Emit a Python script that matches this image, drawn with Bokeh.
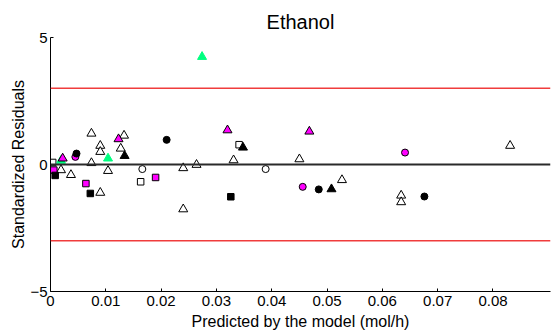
from bokeh.plotting import figure
from bokeh.models import Range1d, FixedTicker, Span, CustomJSTickFormatter
from bokeh.embed import file_html
from bokeh.resources import INLINE

# ---- data ----
open_tri_x = [0.0019, 0.0037, 0.0074, 0.0074, 0.0090, 0.0090, 0.0090, 0.0104, 0.0133, 0.0127,
              0.0240, 0.0264, 0.0240, 0.0331, 0.0450, 0.0527, 0.0634, 0.0634, 0.0831]
open_tri_y = [-0.22, -0.41, 1.22, 0.06, -1.11, 0.74, 0.50, -0.25, 1.14, 0.63,
              -0.14, -0.01, -1.76, 0.17, 0.21, -0.61, -1.22, -1.48, 0.74]
open_sq_x = [0.0004, 0.0163, 0.0341]
open_sq_y = [0.08, -0.68, 0.78]
open_circ_x = [0.0166, 0.0389]
open_circ_y = [-0.18, -0.18]
green_tri_x = [0.0019, 0.0104, 0.0274]
green_tri_y = [0.15, 0.24, 4.24]
mag_sq_x = [0.0006, 0.0064, 0.0190]
mag_sq_y = [-0.22, -0.75, -0.51]
mag_circ_x = [0.0045, 0.0456, 0.0641]
mag_circ_y = [0.30, -0.88, 0.47]
mag_tri_x = [0.0022, 0.0123, 0.0320, 0.0468]
mag_tri_y = [0.24, 1.00, 1.35, 1.30]
blk_sq_x = [0.00085, 0.0072, 0.0326]
blk_sq_y = [-0.43, -1.14, -1.27]
blk_circ_x = [0.0047, 0.0210, 0.0485, 0.0676]
blk_circ_y = [0.43, 0.97, -0.98, -1.26]
blk_tri_x = [0.0134, 0.0348, 0.0508]
blk_tri_y = [0.34, 0.67, -0.97]

x_ticks = [0, 0.01, 0.02, 0.03, 0.04, 0.05, 0.06, 0.07, 0.08]
y_ticks = [-5, 0, 5]
limit_levels = [3, -3]

FONT = "Liberation Sans"

p = figure(width=553, height=336, output_backend="svg", toolbar_location=None,
           x_range=Range1d(0, 0.0904), y_range=Range1d(-5, 5),
           min_border_left=50, min_border_right=3, min_border_top=37, min_border_bottom=45,
           title="Ethanol")
p.title.align = "center"
p.title.text_font = FONT
p.title.text_font_size = "20px"
p.title.text_font_style = "normal"
p.title.text_color = "black"
p.title.standoff = 10

p.outline_line_color = None
p.grid.visible = False
p.background_fill_color = "white"
p.border_fill_color = "white"

for ax in (p.xaxis[0], p.yaxis[0]):
    ax.axis_line_color = "black"
    ax.major_tick_in = 3
    ax.major_tick_out = 0
    ax.minor_tick_line_color = None
    ax.major_tick_line_color = "black"
    ax.major_label_text_font = FONT
    ax.major_label_text_font_size = "15px"
    ax.major_label_text_color = "black"
    ax.axis_label_text_font = FONT
    ax.axis_label_text_font_size = "16px"
    ax.axis_label_text_font_style = "normal"
    ax.axis_label_text_color = "black"

p.xaxis.ticker = FixedTicker(ticks=x_ticks)
p.xaxis.formatter = CustomJSTickFormatter(code="return String(tick);")
p.xaxis.axis_label = "Predicted by the model (mol/h)"
p.xaxis.major_label_standoff = 4
p.xaxis.axis_label_standoff = 4
p.yaxis.ticker = FixedTicker(ticks=y_ticks)
p.yaxis.axis_label = "Standardized Residuals"
p.yaxis.major_label_standoff = 3
p.yaxis.axis_label_standoff = 0

for lv in limit_levels:
    p.add_layout(Span(location=lv, dimension="width", line_color="#f03c3c", line_width=1.5))
p.add_layout(Span(location=0, dimension="width", line_color="#2a2a2a", line_width=2))

TRI, SQ, CI = 9, 6.5, 7
p.scatter(open_tri_x, open_tri_y, marker="triangle", size=TRI, fill_color="white", line_color="black", line_width=1)
p.scatter(open_sq_x, open_sq_y, marker="square", size=SQ, fill_color="white", line_color="black", line_width=1)
p.scatter(open_circ_x, open_circ_y, marker="circle", size=CI, fill_color="white", line_color="black", line_width=1)
p.scatter(green_tri_x, green_tri_y, marker="triangle", size=TRI, fill_color="#00ff80", line_color="#00ff80", line_width=1)
p.scatter(mag_sq_x, mag_sq_y, marker="square", size=SQ, fill_color="#ff00ff", line_color="black", line_width=1)
p.scatter(mag_circ_x, mag_circ_y, marker="circle", size=CI, fill_color="#ff00ff", line_color="black", line_width=1)
p.scatter(mag_tri_x, mag_tri_y, marker="triangle", size=TRI, fill_color="#ff00ff", line_color="black", line_width=1)
p.scatter(blk_sq_x, blk_sq_y, marker="square", size=SQ, fill_color="black", line_color="black", line_width=1)
p.scatter(blk_circ_x, blk_circ_y, marker="circle", size=CI, fill_color="black", line_color="black", line_width=1)
p.scatter(blk_tri_x, blk_tri_y, marker="triangle", size=TRI, fill_color="black", line_color="black", line_width=1)

open("out.html", "w").write(file_html(p, INLINE))
